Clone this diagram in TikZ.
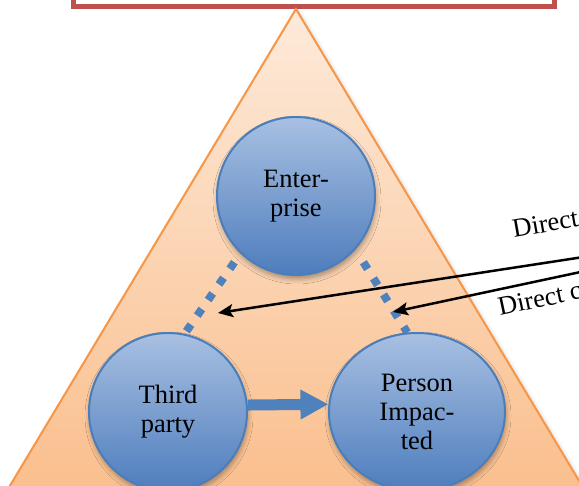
\documentclass[tikz,border=0pt]{standalone}
\usepackage{fontspec}
\setmainfont{Liberation Serif}
\usetikzlibrary{arrows.meta,shadows.blur,shapes.geometric}

\definecolor{frameRed}{RGB}{192,80,77}
\definecolor{triEdge}{RGB}{247,150,70}
\definecolor{triTop}{RGB}{253,234,218}
\definecolor{triBottom}{RGB}{250,190,140}
\definecolor{ballTop}{RGB}{168,192,226}
\definecolor{ballBottom}{RGB}{78,125,189}
\definecolor{ballEdge}{RGB}{74,126,187}
\definecolor{linkBlue}{RGB}{79,129,189}

\tikzset{
  x=1pt, y=-1pt,
  ball/.style={draw=ballEdge, line width=2pt, inner sep=0pt,
    top color=ballTop, bottom color=ballBottom, align=center,
    font=\fontsize{26.5}{29}\selectfont,
    blur shadow={shadow xshift=1pt, shadow yshift=-4pt,
      shadow blur radius=5pt, shadow opacity=35}},
  dotlink/.style={draw=linkBlue, line width=8pt, line cap=butt,
    dash pattern=on 8pt off 11pt},
  flowarrow/.style={draw=linkBlue, line width=11pt,
    -{Triangle[length=28pt,width=28pt]}},
  pointer/.style={draw=black, line width=2.5pt,
    -{Stealth[length=15pt,width=13pt,inset=3pt]}},
  tag/.style={font=\fontsize{26.5}{29}\selectfont, inner sep=0pt, anchor=base west}
}

\begin{document}
\begin{tikzpicture}
\useasboundingbox (0,0) rectangle (579,486);
\clip (0,0) rectangle (579,486);

% frame at the top
\draw[draw=frameRed, line width=5pt, fill=white] (73.5,-20) rectangle (554.5,6.5);

% background triangle
\path[draw=triEdge, line width=2pt, top color=triTop, bottom color=triBottom,
  blur shadow={shadow xshift=2pt, shadow yshift=-2pt, shadow blur radius=4pt, shadow opacity=20}]
  (296,9) -- (590.6,500) -- (1.4,500) -- cycle;

% parties
\node[ball, shape=circle, minimum size=158pt] (ent) at (296,196) {Enter-\\prise};
\node[ball, shape=circle, minimum size=158pt] (tp) at (168,412) {Third\\party};
\node[ball, shape=ellipse, minimum width=176pt, minimum height=158pt] (pi) at (417,412) {Person\\Impac-\\ted};

% indirect links
\draw[dotlink, shorten <=10.6pt] (ent.226) -- (tp.78);
\draw[dotlink, shorten <=15pt] (ent.318) -- (pi.97);

% direct flow
\draw[flowarrow] (tp.5) -- (pi.175);

% labels and pointers
\coordinate (src1) at (590,256);
\coordinate (src2) at (590,270);
\coordinate (tip1) at (218,313);
\coordinate (tip2) at (393,312);
\draw[pointer] (src1) -- (tip1);
\draw[pointer] (src2) -- (tip2);

\node[tag, rotate=10] (lab1) at (514,238) {Direct};
\node[tag, rotate=12] (lab2) at (500,316) {Direct c};
\end{tikzpicture}
\end{document}
